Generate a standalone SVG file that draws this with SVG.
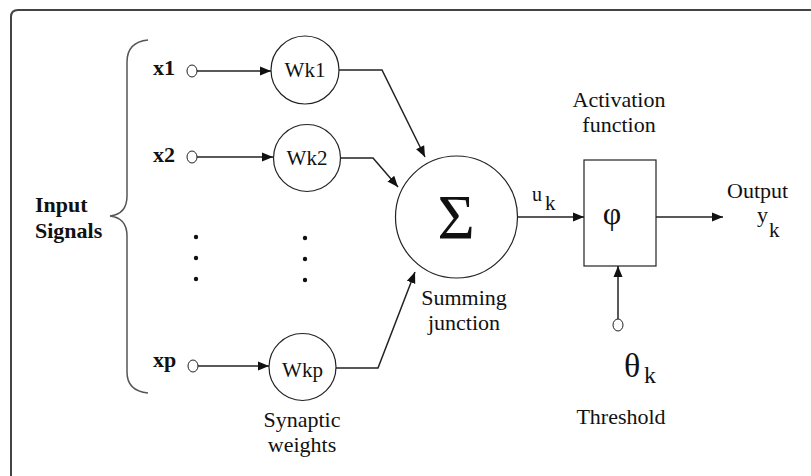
<svg xmlns="http://www.w3.org/2000/svg" width="811" height="476" viewBox="0 0 811 476">
<style>
text{font-family:"Liberation Serif","Times New Roman",serif;fill:#111}
.b{font-weight:bold;font-size:22px}
.l{font-size:22px}
.n{font-size:21px}
.c{text-anchor:middle}
.node{fill:#fff;stroke:#222;stroke-width:1.2}
.term{fill:#fff;stroke:#222;stroke-width:1}
.conn{fill:none;stroke:#222;stroke-width:1.5}
</style>
<defs>
<marker id="ah" markerUnits="userSpaceOnUse" markerWidth="12" markerHeight="10" refX="11" refY="5" orient="auto">
<path d="M0,0.5 L11,5 L0,9.5 Z" fill="#111"/>
</marker>
</defs>
<rect width="811" height="476" fill="#fff"/>
<path d="M11,476 V17 Q11,10 18,10 H811" fill="none" stroke="#444" stroke-width="2"/>

<g id="input-signals">
<path d="M148,40 Q127,42 127,62 V196 Q127,214 110,216 Q127,218 127,236 V372 Q127,391 148,393" fill="none" stroke="#555" stroke-width="1.5"/>
<text class="b" x="35" y="212">Input</text>
<text class="b" x="35" y="238">Signals</text>
</g>

<g id="x1"><text class="b" x="153" y="75">x1</text><ellipse class="term" cx="192" cy="71" rx="5" ry="6"/></g>
<g id="x2"><text class="b" x="153" y="162">x2</text><ellipse class="term" cx="192" cy="157" rx="5" ry="6"/></g>
<g id="xp"><text class="b" x="153" y="367">xp</text><ellipse class="term" cx="193" cy="366" rx="5" ry="6"/></g>

<g id="dots-inputs" fill="#111"><circle cx="196" cy="237" r="2.2"/><circle cx="196" cy="258" r="2.2"/><circle cx="196" cy="279" r="2.2"/></g>
<g id="dots-weights" fill="#111"><circle cx="305" cy="238" r="2.2"/><circle cx="305" cy="259" r="2.2"/><circle cx="305" cy="280" r="2.2"/></g>

<g id="wk1"><circle class="node" cx="305" cy="70" r="34"/><text class="n c" x="305" y="77">Wk1</text></g>
<g id="wk2"><circle class="node" cx="307" cy="158" r="33.5"/><text class="n c" x="307" y="165">Wk2</text></g>
<g id="wkp"><circle class="node" cx="302.5" cy="367" r="33.5"/><text class="n c" x="302.5" y="377">Wkp</text></g>

<g id="synaptic-label"><text class="l c" x="302" y="427">Synaptic</text><text class="l c" x="302" y="452">weights</text></g>

<g id="sum"><circle class="node" cx="456.5" cy="217" r="61"/><text class="c" x="456" y="239" style="font-size:64px">Σ</text>
<text class="l c" x="464" y="305">Summing</text><text class="l c" x="464" y="330">junction</text></g>

<g id="activation"><rect class="node" x="584" y="160" width="72" height="106"/><text class="c" x="612" y="224" style="font-size:32px">φ</text>
<text class="l c" x="619" y="107">Activation</text><text class="l c" x="619" y="132">function</text></g>

<g id="uk-label"><text x="532" y="201" style="font-size:20px">u</text><text x="545" y="210" style="font-size:21px">k</text></g>

<g id="output"><text class="l" x="727" y="198">Output</text><text x="757" y="222" style="font-size:22px">y</text><text x="769" y="237" style="font-size:21px">k</text></g>

<g id="threshold"><ellipse class="term" cx="618" cy="325" rx="5" ry="6"/>
<text x="624" y="377" style="font-size:34px">θ</text><text x="644" y="383" style="font-size:24px">k</text>
<text class="l c" x="621" y="424">Threshold</text></g>

<g id="connectors" class="conn">
<path class="conn" d="M197,71 H271" marker-end="url(#ah)"/>
<path class="conn" d="M197,157 H273" marker-end="url(#ah)"/>
<path class="conn" d="M198,366 H269" marker-end="url(#ah)"/>
<path class="conn" d="M339,70 H382 L425,157" marker-end="url(#ah)"/>
<path class="conn" d="M340.5,158 H373 L398,187" marker-end="url(#ah)"/>
<path class="conn" d="M336,368 H378 L415,272" marker-end="url(#ah)"/>
<path class="conn" d="M517.5,217 H584" marker-end="url(#ah)"/>
<path class="conn" d="M656,217 H723" marker-end="url(#ah)"/>
<path class="conn" d="M618,319 V266" marker-end="url(#ah)"/>
</g>
</svg>
